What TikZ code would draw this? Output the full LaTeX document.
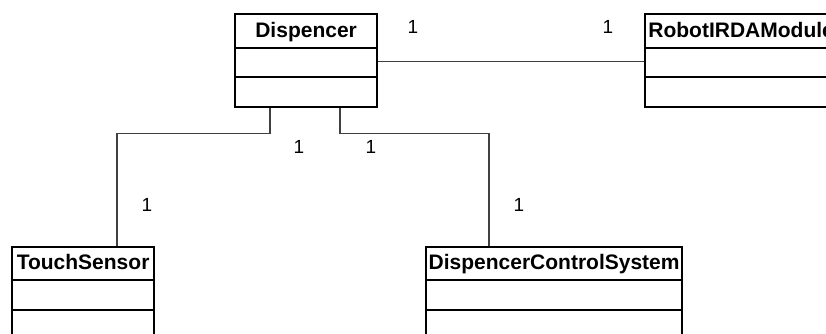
\documentclass[tikz,border=0pt]{standalone}
\usepackage{fontspec}
\setmainfont{Liberation Sans}
\begin{document}
\begin{tikzpicture}[x=1pt,y=-1pt,
  compartment/.style={draw=black, line width=2.2pt, inner sep=0pt, anchor=north west,
    fill=white, text height=15pt, text depth=3pt,
    font=\fontsize{21}{25}\selectfont\bfseries},
  assoc/.style={draw=black!75, line width=1.3pt},
  mult/.style={inner sep=0pt, font=\fontsize{19}{22}\selectfont}]
\useasboundingbox (0,0) rectangle (826,334);
\clip (0,0) rectangle (826,334);

% Dispencer
\node[compartment, minimum width=142pt, minimum height=34pt] (disp) at (234,13) {Dispencer};
\node[compartment, minimum width=142pt, minimum height=29pt] (disp-a) at (234,47) {};
\node[compartment, minimum width=142pt, minimum height=30pt] (disp-o) at (234,76) {};

% RobotIRDAModule (runs past the right edge)
\node[compartment, minimum width=192pt, minimum height=34pt] (robot) at (644,13) {RobotIRDAModule};
\node[compartment, minimum width=192pt, minimum height=29pt] (robot-a) at (644,47) {};
\node[compartment, minimum width=192pt, minimum height=30pt] (robot-o) at (644,76) {};

% TouchSensor
\node[compartment, minimum width=142pt, minimum height=33pt] (touch) at (11,246) {TouchSensor};
\node[compartment, minimum width=142pt, minimum height=30pt] (touch-a) at (11,279) {};
\node[compartment, minimum width=142pt, minimum height=40pt] (touch-o) at (11,309) {};

% DispencerControlSystem
\node[compartment, minimum width=256pt, minimum height=33pt] (dcs) at (425,246) {DispencerControlSystem};
\node[compartment, minimum width=256pt, minimum height=30pt] (dcs-a) at (425,279) {};
\node[compartment, minimum width=256pt, minimum height=40pt] (dcs-o) at (425,309) {};

% associations
\draw[assoc] ([yshift=-12pt]disp.south east) -- ([yshift=-12pt]robot.south west);
\draw[assoc] ([xshift=36pt]disp-o.south west) -- ++(0,25) -| ([xshift=106pt]touch.north west);
\draw[assoc] ([xshift=106pt]disp-o.south west) -- ++(0,25) -| ([xshift=64pt]dcs.north west);

% multiplicities
\node[mult] (m1) at (413,27) {1};
\node[mult] (m2) at (608,27) {1};
\node[mult] (m3) at (299,147) {1};
\node[mult] (m4) at (371,147) {1};
\node[mult] (m5) at (147,205) {1};
\node[mult] (m6) at (519,205) {1};
\end{tikzpicture}
\end{document}
